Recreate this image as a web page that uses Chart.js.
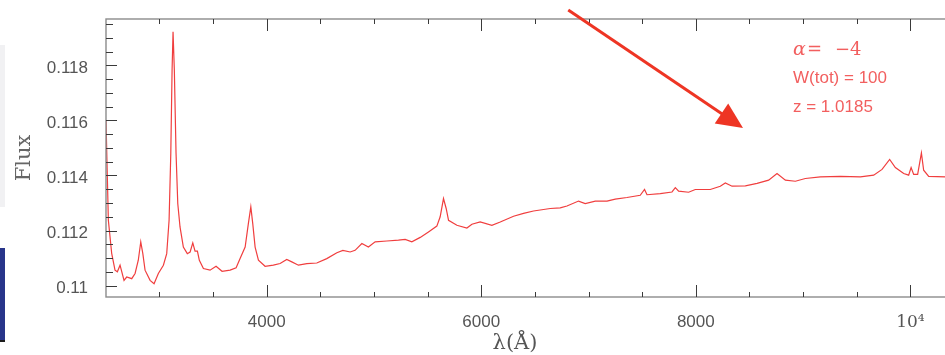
<!DOCTYPE html>
<html>
<head>
<meta charset="utf-8">
<script src="https://cdn.jsdelivr.net/npm/chart.js@4.4.1/dist/chart.umd.min.js"></script>
<style>
    html, body { margin: 0; padding: 0; background: #fff; overflow: hidden; }
    #contenedor { position: relative; width: 945px; height: 355px; overflow: hidden; }
    #graficoEspectro { position: absolute; left: 0; top: 0; }
    .franja { position: absolute; left: 0; width: 5px; }
</style>
</head>
<body>
<div id="contenedor">
    <canvas id="graficoEspectro" width="975" height="355"></canvas>
    <div class="franja" style="top:45px;height:162px;background:#f1f1f3"></div>
    <div class="franja" style="top:248px;height:92px;background:#28358a"></div>
    <div class="franja" style="top:340px;height:2px;background:#1c1c1c"></div>
</div>
<script>
const lambda = [
    2502, 2524, 2555, 2586, 2608, 2633, 2670, 2695, 2742, 2773,
    2803, 2826, 2845, 2866, 2913, 2950, 2990, 3037, 3068, 3090,
    3106, 3118, 3127, 3139, 3155, 3171, 3192, 3223, 3260, 3286,
    3311, 3332, 3354, 3372, 3410, 3472, 3528, 3584, 3659, 3715,
    3752, 3799, 3829, 3852, 3870, 3892, 3923, 3985, 4062, 4125,
    4187, 4234, 4296, 4374, 4467, 4560, 4654, 4710, 4778, 4824,
    4887, 4948, 5011, 5120, 5228, 5291, 5353, 5431, 5508, 5586,
    5617, 5648, 5673, 5695, 5773, 5866, 5913, 5990, 6099, 6177,
    6301, 6394, 6487, 6643, 6736, 6799, 6907, 6969, 7063, 7172,
    7249, 7358, 7482, 7522, 7545, 7669, 7778, 7809, 7840, 7933,
    7995, 8135, 8228, 8275, 8338, 8462, 8571, 8679, 8757, 8835,
    8928, 9021, 9161, 9348, 9534, 9658, 9736, 9807, 9860, 9938,
    9984, 10007, 10031, 10068, 10103, 10124, 10171, 10327, 10500
];
const flujo = [
    0.11601, 0.11237, 0.11117, 0.11056, 0.11050, 0.11074, 0.11019, 0.11031, 0.11025, 0.11044,
    0.11092, 0.11159, 0.11117, 0.11056, 0.11019, 0.11007, 0.11044, 0.11074, 0.11116, 0.11237,
    0.11480, 0.11783, 0.11922, 0.11783, 0.11480, 0.11298, 0.11213, 0.11140, 0.11116, 0.11122,
    0.11155, 0.11125, 0.11125, 0.11092, 0.11062, 0.11056, 0.11070, 0.11052, 0.11056, 0.11065,
    0.11098, 0.11140, 0.11225, 0.11286, 0.11225, 0.11140, 0.11092, 0.11070, 0.11074, 0.11080,
    0.11095, 0.11086, 0.11074, 0.11080, 0.11082, 0.11098, 0.11119, 0.11128, 0.11122, 0.11128,
    0.11153, 0.11140, 0.11159, 0.11162, 0.11165, 0.11168, 0.11159, 0.11175, 0.11195, 0.11216,
    0.11250, 0.11316, 0.11280, 0.11237, 0.11219, 0.11209, 0.11223, 0.11231, 0.11219, 0.11231,
    0.11252, 0.11262, 0.11271, 0.11280, 0.11282, 0.11289, 0.11307, 0.11298, 0.11307, 0.11307,
    0.11314, 0.11320, 0.11328, 0.11349, 0.11330, 0.11334, 0.11340, 0.11356, 0.11343, 0.11339,
    0.11349, 0.11349, 0.11361, 0.11373, 0.11361, 0.11362, 0.11371, 0.11383, 0.11407, 0.11383,
    0.11379, 0.11389, 0.11395, 0.11397, 0.11395, 0.11401, 0.11422, 0.11458, 0.11429, 0.11407,
    0.11401, 0.11429, 0.11404, 0.11404, 0.11482, 0.11419, 0.11397, 0.11395, 0.11393
];

// marcas de los ejes (mayores con etiqueta, menores sin ella)
const ticksX = [2500, 3000, 3500, 4000, 4500, 5000, 5500, 6000, 6500, 7000, 7500, 8000, 8500, 9000, 9500, 10000, 10500];
const mayoresX = [4000, 6000, 8000, 10000];
const etiquetasX = ['4000', '6000', '8000', '10⁴'];

const ticksY = [0.1100, 0.1105, 0.1110, 0.1115, 0.1120, 0.1125, 0.1130, 0.1135, 0.1140, 0.1145,
                0.1150, 0.1155, 0.1160, 0.1165, 0.1170, 0.1175, 0.1180, 0.1185, 0.1190, 0.1195];
const mayoresY = [0.110, 0.112, 0.114, 0.116, 0.118];
const etiquetasY = ['0.11', '0.112', '0.114', '0.116', '0.118'];

// flecha y textos de la anotacion (en coordenadas de datos)
const flechaDesde = [6811, 0.12001];
const flechaHasta = [8440, 0.11572];
const textoX = 8906;
const textosAnotacion = ['W(tot) = 100', 'z = 1.0185'];
const textosY = [0.117346, 0.116303];
const alfaY = 0.118374;

const esMayor = (lista, v) => lista.some(m => Math.abs(m - v) < 1e-9);
const etiqueta = (lista, textos, v) => {
    const i = lista.findIndex(m => Math.abs(m - v) < 1e-9);
    return i >= 0 ? textos[i] : '';
};

const sinRelleno = scale => {
    scale.paddingTop = 0;
    scale.paddingBottom = 0;
    scale.paddingLeft = 0;
    scale.paddingRight = 0;
};

const marcoYAnotaciones = {
    id: 'marcoYAnotaciones',
    afterDraw(chart) {
        const { ctx, chartArea: a, scales: { x, y } } = chart;
        ctx.save();

        // marco
        ctx.strokeStyle = '#8c8c8c';
        ctx.lineWidth = 1.4;
        ctx.strokeRect(a.left, a.top, a.right - a.left, a.bottom - a.top);

        // marcas hacia dentro
        ctx.strokeStyle = '#3a3a3a';
        ctx.lineWidth = 1;
        ctx.beginPath();
        x.ticks.forEach(t => {
            const px = Math.round(x.getPixelForValue(t.value)) + 0.5;
            if (px <= a.left + 2 || px > a.right) return;
            const largo = esMayor(mayoresX, t.value) ? 12 : 5;
            ctx.moveTo(px, a.bottom); ctx.lineTo(px, a.bottom - largo);
            ctx.moveTo(px, a.top); ctx.lineTo(px, a.top + largo);
        });
        y.ticks.forEach(t => {
            const py = Math.round(y.getPixelForValue(t.value)) + 0.5;
            if (py < a.top + 2 || py > a.bottom - 2) return;
            const largo = esMayor(mayoresY, t.value) ? 11 : 7;
            ctx.moveTo(a.left, py); ctx.lineTo(a.left + largo, py);
        });
        ctx.stroke();

        // titulo del eje x
        ctx.fillStyle = '#555';
        ctx.font = '21px "DejaVu Serif"';
        ctx.textAlign = 'center';
        ctx.textBaseline = 'middle';
        ctx.fillText('λ(Å)', a.left + 409, 344);

        // flecha
        const x0 = x.getPixelForValue(flechaDesde[0]), y0 = y.getPixelForValue(flechaDesde[1]);
        const x1 = x.getPixelForValue(flechaHasta[0]), y1 = y.getPixelForValue(flechaHasta[1]);
        const ang = Math.atan2(y1 - y0, x1 - x0);
        const largoPunta = 26, anchoPunta = 12;
        const bx = x1 - largoPunta * Math.cos(ang), by = y1 - largoPunta * Math.sin(ang);
        ctx.strokeStyle = '#ee3524';
        ctx.fillStyle = '#ee3524';
        ctx.lineWidth = 3;
        ctx.beginPath();
        ctx.moveTo(x0, y0);
        ctx.lineTo(bx + 4 * Math.cos(ang), by + 4 * Math.sin(ang));
        ctx.stroke();
        ctx.beginPath();
        ctx.moveTo(x1, y1);
        ctx.lineTo(bx + anchoPunta * Math.sin(ang), by - anchoPunta * Math.cos(ang));
        ctx.lineTo(bx - anchoPunta * Math.sin(ang), by + anchoPunta * Math.cos(ang));
        ctx.closePath();
        ctx.fill();

        // textos
        const tx = x.getPixelForValue(textoX);
        ctx.fillStyle = '#f25f5f';
        ctx.textAlign = 'left';
        ctx.textBaseline = 'alphabetic';
        const ya = y.getPixelForValue(alfaY);
        ctx.font = 'italic 19px "DejaVu Serif"';
        ctx.fillText('α', tx, ya);
        ctx.font = '18px "DejaVu Serif"';
        ctx.fillText('=', tx + 14, ya);
        ctx.fillText('−4', tx + 42, ya);
        ctx.font = '17px "Liberation Sans"';
        textosAnotacion.forEach((t, i) => ctx.fillText(t, tx, y.getPixelForValue(textosY[i])));

        ctx.restore();
    }
};

new Chart(document.getElementById('graficoEspectro'), {
    type: 'line',
    data: {
        datasets: [{
            label: 'Flux',
            data: lambda.map((l, i) => ({ x: l, y: flujo[i] })),
            borderColor: 'rgb(240, 62, 62)',
            borderWidth: 1.2,
            pointRadius: 0,
            tension: 0,
            fill: false
        }]
    },
    options: {
        responsive: false,
        animation: false,
        events: [],
        layout: { padding: { top: 19, right: 11, bottom: 0, left: 0 } },
        plugins: {
            legend: { display: false },
            tooltip: { enabled: false }
        },
        scales: {
            x: {
                type: 'linear',
                min: 2502,
                max: 10500,
                grid: { display: false, drawTicks: false },
                border: { display: false },
                afterBuildTicks: scale => { scale.ticks = ticksX.map(v => ({ value: v })); },
                afterFit: scale => { scale.height = 58; sinRelleno(scale); },
                ticks: {
                    autoSkip: false,
                    maxRotation: 0,
                    padding: 15,
                    color: '#555',
                    font: ctx => (ctx.tick && ctx.tick.value === 10000)
                        ? { family: 'DejaVu Serif', size: 17 }
                        : { family: 'Liberation Sans', size: 17 },
                    callback: v => etiqueta(mayoresX, etiquetasX, v)
                }
            },
            y: {
                min: 0.109585,
                max: 0.119684,
                grid: { display: false, drawTicks: false },
                border: { display: false },
                afterBuildTicks: scale => { scale.ticks = ticksY.map(v => ({ value: v })); },
                afterFit: scale => { scale.width = 106; sinRelleno(scale); },
                title: {
                    display: true,
                    text: 'Flux',
                    color: '#666',
                    font: { family: 'DejaVu Serif', size: 21 },
                    padding: { top: 12, bottom: 0 }
                },
                ticks: {
                    autoSkip: false,
                    padding: 18,
                    labelOffset: 3,
                    color: '#555',
                    font: { family: 'Liberation Sans', size: 17 },
                    callback: v => etiqueta(mayoresY, etiquetasY, v)
                }
            }
        }
    },
    plugins: [marcoYAnotaciones]
});
</script>
</body>
</html>
